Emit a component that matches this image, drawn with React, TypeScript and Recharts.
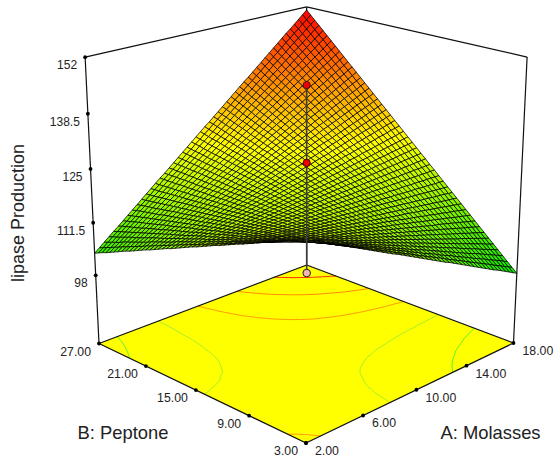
import React from "react";
import { ScatterChart, Scatter, XAxis, YAxis } from "recharts";

// Factor levels and tick labels
const aLevels = [2, 6, 10, 14, 18];
const bLevels = [3, 9, 15, 21, 27];
const zLevels = [98, 111.5, 125, 138.5, 152];
const zLabels = ["98", "111.5", "125", "138.5", "152"];
const xTitleA = "A: Molasses";
const xTitleB = "B: Peptone";
const zTitle = "lipase Production";
const contourLevels = [107.5, 116.2, 125, 134, 143];
const contourColors = ["#5fee2a", "#a6ee33", "#ff9c00", "#ff8a00", "#ff3000"];
const designA = 17.09;
const designB = 25.63;
const designZ = [132.7, 111.4];

// Estimated response heights (tenths of a unit): rows step B from 3 to 27, columns step A from 2 to 18.
// Estimated by eye from the corner heights, the mesh and the floor contours, not measured node by node.
const surfaceTenths = [
[1268,1262,1256,1250,1244,1238,1232,1227,1221,1215,1209,1203,1197,1191,1185,1179,1173,1167,1161,1156,1150,1144,1138,1132,1126,1120,1114,1108,1102,1096,1090,1085,1079,1073,1067,1061,1055,1049,1043,1037,1031,1025,1019,1014,1008,1002,996,990,984],
[1263,1258,1252,1246,1241,1235,1230,1224,1218,1213,1207,1202,1196,1191,1185,1179,1174,1168,1163,1157,1151,1146,1140,1135,1129,1123,1118,1112,1107,1101,1096,1090,1084,1079,1073,1068,1062,1056,1051,1045,1040,1034,1029,1023,1017,1012,1006,1001,995],
[1258,1253,1248,1243,1237,1232,1227,1222,1216,1211,1206,1201,1195,1190,1185,1180,1175,1169,1164,1159,1154,1148,1143,1138,1132,1127,1122,1116,1111,1106,1101,1095,1090,1085,1080,1074,1069,1064,1059,1053,1048,1043,1038,1032,1027,1022,1017,1011,1006],
[1254,1249,1244,1239,1234,1229,1224,1219,1214,1209,1204,1199,1194,1190,1185,1180,1175,1170,1165,1160,1155,1150,1145,1140,1135,1130,1125,1120,1116,1111,1106,1101,1096,1091,1086,1081,1076,1071,1066,1061,1056,1052,1047,1042,1037,1032,1027,1022,1017],
[1249,1244,1240,1235,1230,1226,1221,1217,1212,1207,1203,1198,1194,1189,1184,1180,1175,1171,1166,1161,1157,1152,1148,1143,1138,1134,1129,1125,1120,1115,1111,1106,1102,1097,1092,1088,1083,1079,1074,1069,1065,1060,1056,1051,1046,1042,1037,1033,1028],
[1244,1240,1235,1231,1227,1223,1218,1214,1210,1205,1201,1197,1193,1188,1184,1180,1176,1171,1167,1163,1159,1154,1150,1146,1141,1137,1133,1129,1124,1120,1116,1112,1107,1103,1099,1094,1090,1086,1082,1077,1073,1069,1065,1060,1056,1052,1047,1043,1039],
[1239,1235,1231,1227,1223,1219,1215,1212,1208,1204,1200,1196,1192,1188,1184,1180,1176,1172,1168,1164,1160,1156,1152,1148,1145,1141,1137,1133,1129,1125,1121,1117,1113,1109,1105,1101,1097,1093,1089,1085,1081,1078,1074,1070,1066,1062,1058,1054,1050],
[1234,1231,1227,1223,1220,1216,1213,1209,1205,1202,1198,1195,1191,1187,1184,1180,1177,1173,1169,1166,1162,1158,1155,1151,1148,1144,1140,1137,1133,1130,1126,1122,1119,1115,1112,1108,1104,1101,1097,1093,1090,1086,1083,1079,1075,1072,1068,1065,1061],
[1230,1226,1223,1220,1216,1213,1210,1207,1203,1200,1197,1193,1190,1187,1184,1180,1177,1174,1170,1167,1164,1161,1157,1154,1151,1147,1144,1141,1138,1134,1131,1128,1124,1121,1118,1115,1111,1108,1105,1102,1098,1095,1092,1088,1085,1082,1079,1075,1072],
[1225,1222,1219,1216,1213,1210,1207,1204,1201,1198,1195,1192,1189,1186,1183,1180,1177,1175,1172,1169,1166,1163,1160,1157,1154,1151,1148,1145,1142,1139,1136,1133,1130,1127,1124,1121,1118,1115,1112,1110,1107,1104,1101,1098,1095,1092,1089,1086,1083],
[1220,1217,1215,1212,1209,1207,1204,1202,1199,1196,1194,1191,1188,1186,1183,1181,1178,1175,1173,1170,1167,1165,1162,1160,1157,1154,1152,1149,1146,1144,1141,1139,1136,1133,1131,1128,1125,1123,1120,1118,1115,1112,1110,1107,1104,1102,1099,1097,1094],
[1215,1213,1211,1208,1206,1204,1201,1199,1197,1194,1192,1190,1188,1185,1183,1181,1178,1176,1174,1172,1169,1167,1165,1162,1160,1158,1155,1153,1151,1149,1146,1144,1142,1139,1137,1135,1133,1130,1128,1126,1123,1121,1119,1116,1114,1112,1110,1107,1105],
[1210,1208,1206,1204,1202,1200,1199,1197,1195,1193,1191,1189,1187,1185,1183,1181,1179,1177,1175,1173,1171,1169,1167,1165,1163,1161,1159,1157,1155,1153,1151,1149,1147,1145,1144,1142,1140,1138,1136,1134,1132,1130,1128,1126,1124,1122,1120,1118,1116],
[1205,1204,1202,1201,1199,1197,1196,1194,1192,1191,1189,1187,1186,1184,1183,1181,1179,1178,1176,1174,1173,1171,1169,1168,1166,1165,1163,1161,1160,1158,1156,1155,1153,1151,1150,1148,1147,1145,1143,1142,1140,1138,1137,1135,1133,1132,1130,1129,1127],
[1201,1199,1198,1197,1195,1194,1193,1191,1190,1189,1188,1186,1185,1184,1182,1181,1180,1178,1177,1176,1175,1173,1172,1171,1169,1168,1167,1165,1164,1163,1161,1160,1159,1158,1156,1155,1154,1152,1151,1150,1148,1147,1146,1144,1143,1142,1141,1139,1138],
[1196,1195,1194,1193,1192,1191,1190,1189,1188,1187,1186,1185,1184,1183,1182,1181,1180,1179,1178,1177,1176,1175,1174,1173,1172,1171,1170,1169,1168,1167,1167,1166,1165,1164,1163,1162,1161,1160,1159,1158,1157,1156,1155,1154,1153,1152,1151,1150,1149],
[1191,1190,1190,1189,1188,1188,1187,1186,1186,1185,1185,1184,1183,1183,1182,1181,1181,1180,1179,1179,1178,1177,1177,1176,1175,1175,1174,1174,1173,1172,1172,1171,1170,1170,1169,1168,1168,1167,1166,1166,1165,1165,1164,1163,1163,1162,1161,1161,1160],
[1186,1186,1186,1185,1185,1185,1184,1184,1184,1183,1183,1183,1182,1182,1182,1181,1181,1181,1180,1180,1180,1180,1179,1179,1179,1178,1178,1178,1177,1177,1177,1176,1176,1176,1175,1175,1175,1174,1174,1174,1174,1173,1173,1173,1172,1172,1172,1171,1171],
[1181,1181,1181,1181,1181,1181,1181,1181,1181,1182,1182,1182,1182,1182,1182,1182,1182,1182,1182,1182,1182,1182,1182,1182,1182,1182,1182,1182,1182,1182,1182,1182,1182,1182,1182,1182,1182,1182,1182,1182,1182,1182,1182,1182,1182,1182,1182,1182,1182],
[1177,1177,1177,1178,1178,1178,1179,1179,1179,1180,1180,1180,1181,1181,1181,1182,1182,1182,1183,1183,1183,1184,1184,1184,1185,1185,1185,1186,1186,1186,1187,1187,1187,1188,1188,1189,1189,1189,1190,1190,1190,1191,1191,1191,1192,1192,1192,1193,1193],
[1172,1172,1173,1174,1174,1175,1176,1177,1177,1178,1179,1179,1180,1181,1181,1182,1183,1183,1184,1185,1185,1186,1187,1187,1188,1189,1189,1190,1191,1191,1192,1193,1193,1194,1195,1195,1196,1197,1197,1198,1199,1199,1200,1201,1201,1202,1203,1203,1204],
[1167,1168,1169,1170,1171,1172,1173,1174,1175,1176,1177,1178,1179,1180,1181,1182,1183,1184,1185,1186,1187,1188,1189,1190,1191,1192,1193,1194,1195,1196,1197,1198,1199,1200,1201,1202,1203,1204,1205,1206,1207,1208,1209,1210,1211,1212,1213,1214,1215],
[1162,1163,1165,1166,1167,1169,1170,1171,1173,1174,1175,1177,1178,1179,1181,1182,1183,1185,1186,1187,1189,1190,1191,1193,1194,1195,1197,1198,1199,1201,1202,1203,1205,1206,1207,1209,1210,1211,1213,1214,1215,1217,1218,1219,1221,1222,1223,1225,1226],
[1157,1159,1161,1162,1164,1166,1167,1169,1171,1172,1174,1176,1177,1179,1181,1182,1184,1186,1187,1189,1190,1192,1194,1195,1197,1199,1200,1202,1204,1205,1207,1209,1210,1212,1214,1215,1217,1219,1220,1222,1224,1225,1227,1229,1230,1232,1234,1235,1237],
[1153,1154,1156,1158,1160,1162,1164,1166,1168,1170,1172,1174,1176,1178,1180,1182,1184,1186,1188,1190,1192,1194,1196,1198,1200,1202,1204,1206,1208,1210,1212,1214,1216,1218,1220,1222,1224,1226,1228,1230,1232,1234,1236,1238,1240,1242,1244,1246,1248],
[1148,1150,1152,1155,1157,1159,1162,1164,1166,1169,1171,1173,1176,1178,1180,1182,1185,1187,1189,1192,1194,1196,1199,1201,1203,1206,1208,1210,1213,1215,1217,1220,1222,1224,1226,1229,1231,1233,1236,1238,1240,1243,1245,1247,1250,1252,1254,1257,1259],
[1143,1146,1148,1151,1154,1156,1159,1161,1164,1167,1169,1172,1175,1177,1180,1183,1185,1188,1191,1193,1196,1199,1201,1204,1206,1209,1212,1214,1217,1220,1222,1225,1228,1230,1233,1236,1238,1241,1244,1246,1249,1251,1254,1257,1259,1262,1265,1267,1270],
[1138,1141,1144,1147,1150,1153,1156,1159,1162,1165,1168,1171,1174,1177,1180,1183,1186,1189,1192,1195,1198,1201,1204,1207,1210,1212,1215,1218,1221,1224,1227,1230,1233,1236,1239,1242,1245,1248,1251,1254,1257,1260,1263,1266,1269,1272,1275,1278,1281],
[1133,1137,1140,1143,1147,1150,1153,1156,1160,1163,1166,1170,1173,1176,1180,1183,1186,1190,1193,1196,1199,1203,1206,1209,1213,1216,1219,1223,1226,1229,1233,1236,1239,1242,1246,1249,1252,1256,1259,1262,1266,1269,1272,1275,1279,1282,1285,1289,1292],
[1128,1132,1136,1139,1143,1147,1150,1154,1158,1161,1165,1168,1172,1176,1179,1183,1187,1190,1194,1198,1201,1205,1208,1212,1216,1219,1223,1227,1230,1234,1238,1241,1245,1248,1252,1256,1259,1263,1267,1270,1274,1278,1281,1285,1288,1292,1296,1299,1303],
[1124,1128,1132,1136,1139,1143,1147,1151,1155,1159,1163,1167,1171,1175,1179,1183,1187,1191,1195,1199,1203,1207,1211,1215,1219,1223,1227,1231,1235,1239,1243,1247,1251,1255,1259,1262,1266,1270,1274,1278,1282,1286,1290,1294,1298,1302,1306,1310,1314],
[1119,1123,1127,1132,1136,1140,1145,1149,1153,1157,1162,1166,1170,1175,1179,1183,1188,1192,1196,1200,1205,1209,1213,1218,1222,1226,1231,1235,1239,1243,1248,1252,1256,1261,1265,1269,1273,1278,1282,1286,1291,1295,1299,1304,1308,1312,1316,1321,1325],
[1114,1119,1123,1128,1132,1137,1142,1146,1151,1156,1160,1165,1170,1174,1179,1183,1188,1193,1197,1202,1207,1211,1216,1220,1225,1230,1234,1239,1244,1248,1253,1257,1262,1267,1271,1276,1281,1285,1290,1294,1299,1304,1308,1313,1318,1322,1327,1331,1336],
[1109,1114,1119,1124,1129,1134,1139,1144,1149,1154,1159,1164,1169,1174,1179,1183,1188,1193,1198,1203,1208,1213,1218,1223,1228,1233,1238,1243,1248,1253,1258,1263,1268,1273,1278,1283,1288,1292,1297,1302,1307,1312,1317,1322,1327,1332,1337,1342,1347],
[1104,1110,1115,1120,1126,1131,1136,1141,1147,1152,1157,1163,1168,1173,1178,1184,1189,1194,1199,1205,1210,1215,1221,1226,1231,1236,1242,1247,1252,1258,1263,1268,1273,1279,1284,1289,1295,1300,1305,1310,1316,1321,1326,1332,1337,1342,1347,1353,1358],
[1100,1105,1111,1116,1122,1128,1133,1139,1145,1150,1156,1161,1167,1173,1178,1184,1189,1195,1201,1206,1212,1217,1223,1229,1234,1240,1246,1251,1257,1262,1268,1274,1279,1285,1290,1296,1302,1307,1313,1318,1324,1330,1335,1341,1347,1352,1358,1363,1369],
[1095,1101,1107,1113,1119,1125,1130,1136,1142,1148,1154,1160,1166,1172,1178,1184,1190,1196,1202,1208,1214,1220,1226,1231,1237,1243,1249,1255,1261,1267,1273,1279,1285,1291,1297,1303,1309,1315,1321,1327,1332,1338,1344,1350,1356,1362,1368,1374,1380],
[1090,1096,1102,1109,1115,1121,1128,1134,1140,1146,1153,1159,1165,1171,1178,1184,1190,1197,1203,1209,1215,1222,1228,1234,1240,1247,1253,1259,1266,1272,1278,1284,1291,1297,1303,1309,1316,1322,1328,1335,1341,1347,1353,1360,1366,1372,1378,1385,1391],
[1085,1092,1098,1105,1112,1118,1125,1131,1138,1145,1151,1158,1164,1171,1178,1184,1191,1197,1204,1211,1217,1224,1230,1237,1244,1250,1257,1263,1270,1277,1283,1290,1296,1303,1310,1316,1323,1329,1336,1343,1349,1356,1362,1369,1376,1382,1389,1395,1402],
[1080,1087,1094,1101,1108,1115,1122,1129,1136,1143,1150,1157,1163,1170,1177,1184,1191,1198,1205,1212,1219,1226,1233,1240,1247,1254,1261,1267,1274,1281,1288,1295,1302,1309,1316,1323,1330,1337,1344,1351,1358,1364,1371,1378,1385,1392,1399,1406,1413],
[1076,1083,1090,1097,1105,1112,1119,1126,1134,1141,1148,1155,1163,1170,1177,1184,1192,1199,1206,1213,1221,1228,1235,1242,1250,1257,1264,1271,1279,1286,1293,1301,1308,1315,1322,1330,1337,1344,1351,1359,1366,1373,1380,1388,1395,1402,1409,1417,1424],
[1071,1078,1086,1093,1101,1109,1116,1124,1131,1139,1147,1154,1162,1169,1177,1185,1192,1200,1207,1215,1223,1230,1238,1245,1253,1260,1268,1276,1283,1291,1298,1306,1314,1321,1329,1336,1344,1352,1359,1367,1374,1382,1389,1397,1405,1412,1420,1427,1435],
[1066,1074,1082,1090,1098,1105,1113,1121,1129,1137,1145,1153,1161,1169,1177,1185,1193,1201,1208,1216,1224,1232,1240,1248,1256,1264,1272,1280,1288,1296,1303,1311,1319,1327,1335,1343,1351,1359,1367,1375,1383,1391,1398,1406,1414,1422,1430,1438,1446],
[1061,1069,1078,1086,1094,1102,1111,1119,1127,1135,1144,1152,1160,1168,1177,1185,1193,1201,1210,1218,1226,1234,1243,1251,1259,1267,1276,1284,1292,1300,1309,1317,1325,1333,1342,1350,1358,1366,1375,1383,1391,1399,1408,1416,1424,1432,1441,1449,1457],
[1056,1065,1073,1082,1091,1099,1108,1116,1125,1133,1142,1151,1159,1168,1176,1185,1194,1202,1211,1219,1228,1236,1245,1254,1262,1271,1279,1288,1296,1305,1314,1322,1331,1339,1348,1356,1365,1374,1382,1391,1399,1408,1417,1425,1434,1442,1451,1459,1468],
[1051,1060,1069,1078,1087,1096,1105,1114,1123,1132,1140,1149,1158,1167,1176,1185,1194,1203,1212,1221,1230,1238,1247,1256,1265,1274,1283,1292,1301,1310,1319,1328,1336,1345,1354,1363,1372,1381,1390,1399,1408,1417,1426,1434,1443,1452,1461,1470,1479],
[1047,1056,1065,1074,1084,1093,1102,1111,1121,1130,1139,1148,1157,1167,1176,1185,1194,1204,1213,1222,1231,1241,1250,1259,1268,1278,1287,1296,1305,1315,1324,1333,1342,1351,1361,1370,1379,1388,1398,1407,1416,1425,1435,1444,1453,1462,1472,1481,1490],
[1042,1051,1061,1071,1080,1090,1099,1109,1118,1128,1137,1147,1157,1166,1176,1185,1195,1204,1214,1224,1233,1243,1252,1262,1271,1281,1291,1300,1310,1319,1329,1338,1348,1358,1367,1377,1386,1396,1405,1415,1424,1434,1444,1453,1463,1472,1482,1491,1501],
[1037,1047,1057,1067,1077,1086,1096,1106,1116,1126,1136,1146,1156,1166,1176,1185,1195,1205,1215,1225,1235,1245,1255,1265,1275,1284,1294,1304,1314,1324,1334,1344,1354,1364,1373,1383,1393,1403,1413,1423,1433,1443,1453,1463,1472,1482,1492,1502,1512],
];

const W = 554, H = 464;
const Z_FLOOR = 80, Z_TOP = 152;

// Camera: floor corners and the vanishing point of the vertical edges
const P00 = [306, 443], P10 = [513.5, 343], P01 = [99, 343.5], P11 = [306.7, 265];
const VP = [308, 4660], VG = -0.0707;
const dx1 = P10[0] - P11[0], dx2 = P01[0] - P11[0], sx = P00[0] - P10[0] + P11[0] - P01[0];
const dy1 = P10[1] - P11[1], dy2 = P01[1] - P11[1], sy = P00[1] - P10[1] + P11[1] - P01[1];
const den = dx1 * dy2 - dx2 * dy1;
const G = (sx * dy2 - dx2 * sy) / den;
const K = (dx1 * sy - sx * dy1) / den;

function project(A: number, B: number, z: number) {
  const u = (A - 2) / 16, v = (B - 3) / 24, t = (z - Z_FLOOR) / (Z_TOP - Z_FLOOR);
  const w = 1 + G * u + K * v + VG * t;
  const X = P00[0] + (P10[0] * (1 + G) - P00[0]) * u + (P01[0] * (1 + K) - P00[0]) * v + VG * VP[0] * t;
  const Y = P00[1] + (P10[1] * (1 + G) - P00[1]) * u + (P01[1] * (1 + K) - P00[1]) * v + VG * VP[1] * t;
  return { x: X / w, y: Y / w };
}

const N = surfaceTenths.length - 1;
const nodeA = (i: number) => 2 + (16 * i) / N;
const nodeB = (j: number) => 3 + (24 * j) / N;
const nodeZ = (i: number, j: number) => surfaceTenths[j][i] / 10;

function rampColor(z: number) {
  const t = Math.max(0, Math.min(1, (z - 98.4) / 52.8));
  if (t < 0.5) {
    const k = t * 2;
    return `rgb(${Math.round(255 * k)},${Math.round(232 + 23 * k)},0)`;
  }
  return `rgb(255,${Math.round(255 * (2 - 2 * t))},0)`;
}

// surface cells, back corner first so that nearer cells paint over farther ones
const quads: any[] = [];
for (let j = 0; j < N; j++) {
  for (let i = 0; i < N; i++) {
    const c = [[i, j], [i + 1, j], [i + 1, j + 1], [i, j + 1]];
    const pts = c.map(([a, b]) => project(nodeA(a), nodeB(b), nodeZ(a, b)));
    const mean = c.reduce((s, [a, b]) => s + nodeZ(a, b), 0) / 4;
    quads.push({ x: pts[0].x, y: pts[0].y, pts, fill: rampColor(mean), order: i + j });
  }
}
quads.sort((p, q) => q.order - p.order);

function seg(p: { x: number; y: number }, q: { x: number; y: number }, stroke: string, width: number) {
  return { x: p.x, y: p.y, x2: q.x, y2: q.y, stroke, width };
}

const contourSegs: any[] = [];
contourLevels.forEach((lv, li) => {
  for (let j = 0; j < N; j++) {
    for (let i = 0; i < N; i++) {
      const corners = [[i, j], [i + 1, j], [i + 1, j + 1], [i, j + 1]];
      const hits: { x: number; y: number }[] = [];
      for (let e = 0; e < 4; e++) {
        const [a0, b0] = corners[e], [a1, b1] = corners[(e + 1) % 4];
        const z0 = nodeZ(a0, b0), z1 = nodeZ(a1, b1);
        if (z0 < lv !== z1 < lv) {
          const f = (lv - z0) / (z1 - z0);
          hits.push(project(nodeA(a0 + (a1 - a0) * f), nodeB(b0 + (b1 - b0) * f), Z_FLOOR));
        }
      }
      if (hits.length >= 2) contourSegs.push(seg(hits[0], hits[1], contourColors[li], 1));
    }
  }
});

const floorCornerList = [project(2, 3, Z_FLOOR), project(18, 3, Z_FLOOR), project(18, 27, Z_FLOOR), project(2, 27, Z_FLOOR)];
const floorData = [{ x: floorCornerList[0].x, y: floorCornerList[0].y, pts: floorCornerList }];

const K_ = "#111";
const frame = [
  seg(project(2, 27, Z_FLOOR), project(2, 27, Z_TOP), K_, 1.2),
  seg(project(18, 3, Z_FLOOR), project(18, 3, Z_TOP), K_, 1.2),
  seg(project(18, 27, Z_FLOOR), project(18, 27, Z_TOP), K_, 1.2),
  seg(project(2, 27, Z_TOP), project(18, 27, Z_TOP), K_, 1.2),
  seg(project(18, 3, Z_TOP), project(18, 27, Z_TOP), K_, 1.2),
  seg(project(2, 3, Z_FLOOR), project(18, 3, Z_FLOOR), K_, 1.3),
  seg(project(2, 3, Z_FLOOR), project(2, 27, Z_FLOOR), K_, 1.3),
  seg(project(2, 27, Z_FLOOR), project(18, 27, Z_FLOOR), K_, 1.3),
  seg(project(18, 3, Z_FLOOR), project(18, 27, Z_FLOOR), K_, 1.3),
];

const stem = [seg(project(designA, designB, Z_FLOOR), project(designA, designB, designZ[0]), "#3c3c3c", 1.6)];

const tickDots = [
  ...zLevels.map((z) => project(2, 27, z)),
  ...aLevels.map((a) => project(a, 3, Z_FLOOR)),
  ...bLevels.map((b) => project(2, b, Z_FLOOR)),
];

const marks = [
  { ...project(designA, designB, designZ[0]), r: 3.6, fill: "#f00000", stroke: "#3a1a1a" },
  { ...project(designA, designB, designZ[1]), r: 3.6, fill: "#f00000", stroke: "#5a0000" },
  { ...project(designA, designB, Z_FLOOR), r: 3.8, fill: "#f4b4b4", stroke: "#222" },
];

const FONT = "'Liberation Sans', Arial, sans-serif";
const labels: any[] = [
  ...zLevels.map((z, i) => {
    const p = project(2, 27, z);
    return { x: p.x - 8, y: p.y + 8, text: zLabels[i], anchor: "end", size: 12 };
  }),
  ...aLevels.map((a) => {
    const p = project(a, 3, Z_FLOOR);
    return { x: p.x + 9, y: p.y + 8, text: a.toFixed(2), anchor: "start", size: 12.3 };
  }),
  ...bLevels.map((b) => {
    const p = project(2, b, Z_FLOOR);
    return { x: p.x - 8, y: p.y + 8, text: b.toFixed(2), anchor: "end", size: 12.3 };
  }),
  { x: 123, y: 432, text: xTitleB, anchor: "middle", size: 18.4 },
  { x: 490.5, y: 432, text: xTitleA, anchor: "middle", size: 18.4 },
  { x: 18, y: 213, text: zTitle, anchor: "middle", size: 18, rotate: -90 },
];

const QuadShape = (p: any) => {
  const d = p.payload;
  const pts = d.pts.map((q: any) => `${(q.x - d.x + p.cx).toFixed(2)},${(q.y - d.y + p.cy).toFixed(2)}`).join(" ");
  return <polygon points={pts} fill={d.fill} stroke="#000" strokeWidth={0.75} strokeLinejoin="round" />;
};
const FloorShape = (p: any) => {
  const d = p.payload;
  const pts = d.pts.map((q: any) => `${q.x - d.x + p.cx},${q.y - d.y + p.cy}`).join(" ");
  return <polygon points={pts} fill="#ffff00" />;
};
const SegShape = (p: any) => {
  const d = p.payload;
  return <line x1={p.cx} y1={p.cy} x2={p.cx + d.x2 - d.x} y2={p.cy + d.y2 - d.y} stroke={d.stroke} strokeWidth={d.width} />;
};
const TickShape = (p: any) => <circle cx={p.cx} cy={p.cy} r={1.9} fill="#000" />;
const MarkShape = (p: any) => {
  const d = p.payload;
  return <circle cx={p.cx} cy={p.cy} r={d.r} fill={d.fill} stroke={d.stroke} strokeWidth={1} />;
};
const LabelShape = (p: any) => {
  const d = p.payload;
  return (
    <text
      x={p.cx}
      y={p.cy}
      textAnchor={d.anchor}
      dominantBaseline="central"
      fontFamily={FONT}
      fontSize={d.size}
      fill="#222"
      transform={d.rotate ? `rotate(${d.rotate} ${p.cx} ${p.cy})` : undefined}
    >
      {d.text}
    </text>
  );
};

export default function App() {
  return (
    <div style={{ position: "absolute", left: 0, top: 0, width: W, height: H, background: "#fff" }}>
      <ScatterChart width={W} height={H} margin={{ top: 0, right: 0, bottom: 0, left: 0 }}>
        <XAxis type="number" dataKey="x" domain={[0, W]} hide />
        <YAxis type="number" dataKey="y" domain={[0, H]} reversed hide />
        <Scatter data={floorData} shape={FloorShape} isAnimationActive={false} />
        <Scatter data={contourSegs} shape={SegShape} isAnimationActive={false} />
        <Scatter data={frame} shape={SegShape} isAnimationActive={false} />
        <Scatter data={quads} shape={QuadShape} isAnimationActive={false} />
        <Scatter data={stem} shape={SegShape} isAnimationActive={false} />
        <Scatter data={tickDots} shape={TickShape} isAnimationActive={false} />
        <Scatter data={marks} shape={MarkShape} isAnimationActive={false} />
        <Scatter data={labels} shape={LabelShape} isAnimationActive={false} />
      </ScatterChart>
    </div>
  );
}
